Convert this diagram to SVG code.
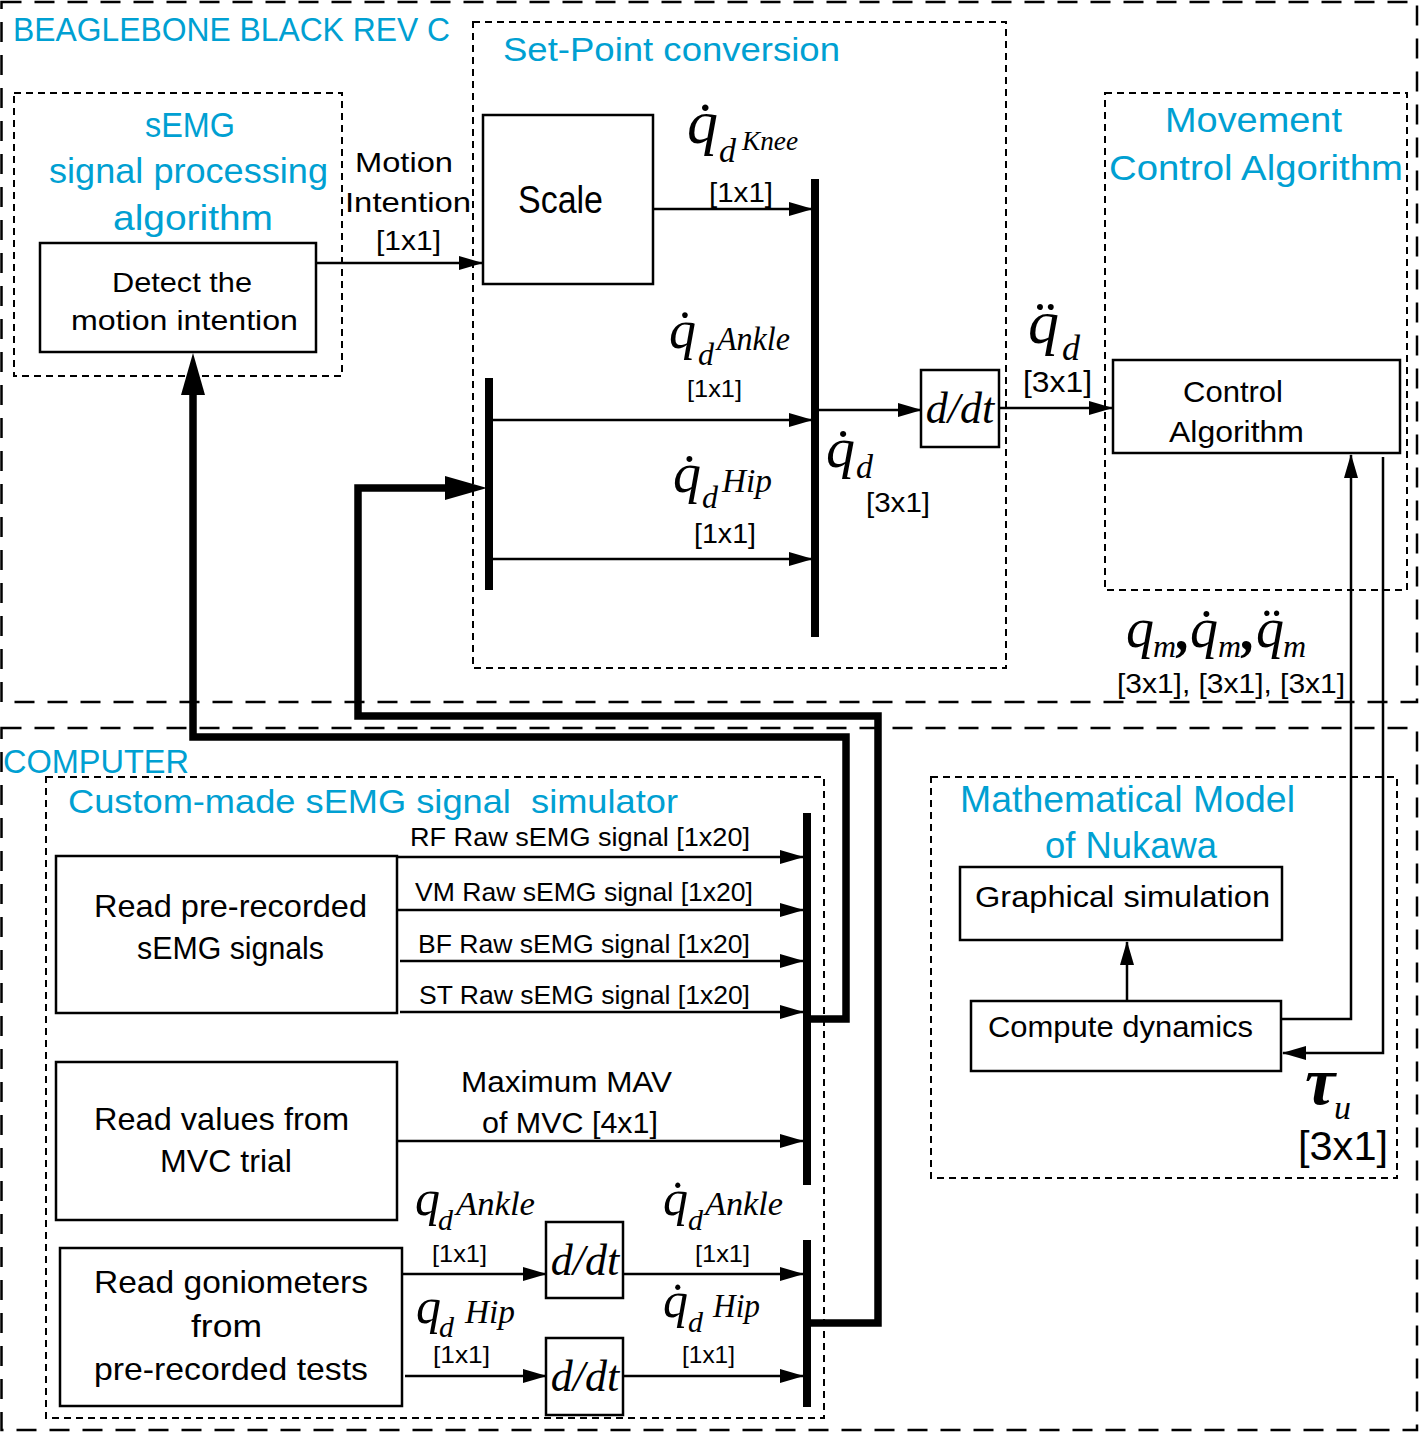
<svg xmlns="http://www.w3.org/2000/svg" width="1419" height="1432" viewBox="0 0 1419 1432">
<style>
.bg{fill:#fff}
.box{fill:#fff;stroke:#000;stroke-width:2.5}
.dashO{fill:none;stroke:#000;stroke-width:2.5;stroke-dasharray:20 13}
.dashI{fill:none;stroke:#000;stroke-width:2;stroke-dasharray:7 5}
.ln{fill:none;stroke:#000;stroke-width:2.5}
.thick{fill:none;stroke:#000;stroke-width:7.5;stroke-linejoin:miter}
.bar{fill:#000}
.t{font-family:"Liberation Sans",Arial,sans-serif;fill:#00A0D2}
.l{font-family:"Liberation Sans",Arial,sans-serif;fill:#000}
.m{font-family:"Liberation Serif","Times New Roman",serif;font-style:italic;fill:#000}
</style>
<defs>
<marker id="arr" markerUnits="userSpaceOnUse" markerWidth="24" markerHeight="14" refX="23" refY="7" orient="auto">
<path d="M0,0 L24,7 L0,14 Z" fill="#000"/>
</marker>
<marker id="arrBig" markerUnits="userSpaceOnUse" markerWidth="42" markerHeight="24" refX="1" refY="12" orient="auto">
<path d="M0,0 L42,12 L0,24 Z" fill="#000"/>
</marker>
</defs>
<rect class="bg" x="0" y="0" width="1419" height="1432"/>

<g id="beaglebone">
<rect class="dashO" x="1.5" y="2" width="1415.5" height="700"/>
<text class="t" x="13" y="41" font-size="33" textLength="437" lengthAdjust="spacingAndGlyphs">BEAGLEBONE BLACK REV C</text>
</g>
<g id="computer">
<rect class="dashO" x="1.5" y="728" width="1415.5" height="702"/>
<text class="t" x="3" y="773" font-size="33" textLength="186" lengthAdjust="spacingAndGlyphs">COMPUTER</text>
</g>

<g id="semg-processing">
<rect class="dashI" x="14" y="93" width="328" height="283"/>
<text class="t" x="145" y="137" font-size="35" textLength="90" lengthAdjust="spacingAndGlyphs">sEMG</text>
<text class="t" x="49" y="183" font-size="35" textLength="279" lengthAdjust="spacingAndGlyphs">signal processing</text>
<text class="t" x="113" y="230" font-size="35" textLength="160" lengthAdjust="spacingAndGlyphs">algorithm</text>
</g>
<g id="detect">
<rect class="box" x="40" y="243" width="276" height="109"/>
<text class="l" x="112" y="292" font-size="28" textLength="140" lengthAdjust="spacingAndGlyphs">Detect the</text>
<text class="l" x="71" y="330" font-size="28" textLength="227" lengthAdjust="spacingAndGlyphs">motion intention</text>
</g>

<g id="setpoint">
<rect class="dashI" x="473" y="22" width="533" height="646"/>
<text class="t" x="503" y="61" font-size="34" textLength="337" lengthAdjust="spacingAndGlyphs">Set-Point conversion</text>
</g>
<g id="scale">
<rect class="box" x="483" y="115" width="170" height="169"/>
<text class="l" x="518" y="213" font-size="38" textLength="85" lengthAdjust="spacingAndGlyphs">Scale</text>
</g>
<g id="mux-setpoint-in"><rect class="bar" x="485" y="378" width="8" height="212"/></g>
<g id="mux-setpoint-out"><rect class="bar" x="811" y="179" width="8" height="458"/></g>
<g id="ddt-setpoint">
<rect class="box" x="921" y="370" width="78" height="77"/>
<text class="m" x="960" y="423" font-size="44" text-anchor="middle">d/dt</text>
</g>

<g id="movement-control">
<rect class="dashI" x="1105" y="93" width="302" height="497"/>
<text class="t" x="1165" y="132" font-size="35" textLength="177" lengthAdjust="spacingAndGlyphs">Movement</text>
<text class="t" x="1109" y="180" font-size="35" textLength="294" lengthAdjust="spacingAndGlyphs">Control Algorithm</text>
</g>
<g id="control-algorithm">
<rect class="box" x="1113" y="360" width="287" height="93"/>
<text class="l" x="1183" y="402" font-size="29" textLength="100" lengthAdjust="spacingAndGlyphs">Control</text>
<text class="l" x="1169" y="442" font-size="29" textLength="135" lengthAdjust="spacingAndGlyphs">Algorithm</text>
</g>

<g id="custom-simulator">
<rect class="dashI" x="46" y="777" width="778" height="641"/>
<text class="t" x="68" y="813" font-size="34" textLength="610" lengthAdjust="spacingAndGlyphs" xml:space="preserve">Custom-made sEMG signal  simulator</text>
</g>
<g id="read-semg">
<rect class="box" x="56" y="856" width="341" height="157"/>
<text class="l" x="94" y="917" font-size="32" textLength="273" lengthAdjust="spacingAndGlyphs">Read pre-recorded</text>
<text class="l" x="137" y="959" font-size="32" textLength="187" lengthAdjust="spacingAndGlyphs">sEMG signals</text>
</g>
<g id="read-mvc">
<rect class="box" x="56" y="1062" width="341" height="158"/>
<text class="l" x="94" y="1130" font-size="32" textLength="255" lengthAdjust="spacingAndGlyphs">Read values from</text>
<text class="l" x="160" y="1172" font-size="32" textLength="132" lengthAdjust="spacingAndGlyphs">MVC trial</text>
</g>
<g id="read-goniometers">
<rect class="box" x="60" y="1248" width="342" height="158"/>
<text class="l" x="94" y="1293" font-size="32" textLength="274" lengthAdjust="spacingAndGlyphs">Read goniometers</text>
<text class="l" x="191" y="1337" font-size="32" textLength="71" lengthAdjust="spacingAndGlyphs">from</text>
<text class="l" x="94" y="1380" font-size="32" textLength="274" lengthAdjust="spacingAndGlyphs">pre-recorded tests</text>
</g>
<g id="ddt-ankle">
<rect class="box" x="546" y="1222" width="77" height="76"/>
<text class="m" x="585" y="1275" font-size="44" text-anchor="middle">d/dt</text>
</g>
<g id="ddt-hip">
<rect class="box" x="546" y="1338" width="77" height="77"/>
<text class="m" x="585" y="1391" font-size="44" text-anchor="middle">d/dt</text>
</g>
<g id="mux-semg"><rect class="bar" x="803" y="813" width="8" height="372"/></g>
<g id="mux-gonio"><rect class="bar" x="803" y="1240" width="8" height="167"/></g>

<g id="math-model">
<rect class="dashI" x="931" y="777" width="466" height="401"/>
<text class="t" x="960" y="812" font-size="36" textLength="335" lengthAdjust="spacingAndGlyphs">Mathematical Model</text>
<text class="t" x="1045" y="858" font-size="36" textLength="172" lengthAdjust="spacingAndGlyphs">of Nukawa</text>
</g>
<g id="graphical-simulation">
<rect class="box" x="960" y="867" width="322" height="73"/>
<text class="l" x="975" y="907" font-size="30" textLength="295" lengthAdjust="spacingAndGlyphs">Graphical simulation</text>
</g>
<g id="compute-dynamics">
<rect class="box" x="971" y="1001" width="310" height="70"/>
<text class="l" x="988" y="1037" font-size="30" textLength="265" lengthAdjust="spacingAndGlyphs">Compute dynamics</text>
</g>

<g id="connectors">
<path class="ln" d="M316,263 H482" marker-end="url(#arr)"/>
<path class="ln" d="M653,209 H812" marker-end="url(#arr)"/>
<path class="ln" d="M493,420 H812" marker-end="url(#arr)"/>
<path class="ln" d="M493,559 H812" marker-end="url(#arr)"/>
<path class="ln" d="M819,410 H921" marker-end="url(#arr)"/>
<path class="ln" d="M999,408 H1112" marker-end="url(#arr)"/>
<path class="ln" d="M1383,457 V1053 H1283" marker-end="url(#arr)"/>
<path class="ln" d="M1281,1019 H1351 V455" marker-end="url(#arr)"/>
<path class="ln" d="M1127,1001 V942" marker-end="url(#arr)"/>
<path class="ln" d="M397,857 H803" marker-end="url(#arr)"/>
<path class="ln" d="M398,910 H803" marker-end="url(#arr)"/>
<path class="ln" d="M400,961 H803" marker-end="url(#arr)"/>
<path class="ln" d="M400,1012 H803" marker-end="url(#arr)"/>
<path class="ln" d="M397,1141 H803" marker-end="url(#arr)"/>
<path class="ln" d="M402,1274 H546" marker-end="url(#arr)"/>
<path class="ln" d="M623,1274 H803" marker-end="url(#arr)"/>
<path class="ln" d="M405,1376 H546" marker-end="url(#arr)"/>
<path class="ln" d="M623,1376 H803" marker-end="url(#arr)"/>
<path class="thick" d="M811,1019 H846 V737 H193 V394" marker-end="url(#arrBig)"/>
<path class="thick" d="M811,1323 H878 V716 H358 V488 H446" marker-end="url(#arrBig)"/>
</g>

<g id="labels">
<text class="l" x="355" y="172" font-size="28" textLength="98" lengthAdjust="spacingAndGlyphs">Motion</text>
<text class="l" x="345" y="212" font-size="28" textLength="126" lengthAdjust="spacingAndGlyphs">Intention</text>
<text class="l" x="376" y="250" font-size="28" textLength="65" lengthAdjust="spacingAndGlyphs">[1x1]</text>

<text class="m"><tspan x="687" y="143" font-size="62">q̇</tspan><tspan x="719" y="162" font-size="34">d</tspan><tspan x="742" y="150" font-size="28" textLength="56" lengthAdjust="spacingAndGlyphs">Knee</tspan></text>
<text class="l" x="709" y="202" font-size="28" textLength="64" lengthAdjust="spacingAndGlyphs">[1x1]</text>

<text class="m"><tspan x="669" y="348" font-size="54">q̇</tspan><tspan x="698" y="365" font-size="32">d</tspan><tspan x="717" y="350" font-size="34" textLength="73" lengthAdjust="spacingAndGlyphs">Ankle</tspan></text>
<text class="l" x="687" y="397" font-size="24" textLength="55" lengthAdjust="spacingAndGlyphs">[1x1]</text>

<text class="m"><tspan x="673" y="492" font-size="56">q̇</tspan><tspan x="702" y="508" font-size="32">d</tspan><tspan x="722" y="492" font-size="34" textLength="50" lengthAdjust="spacingAndGlyphs">Hip</tspan></text>
<text class="l" x="694" y="543" font-size="28" textLength="62" lengthAdjust="spacingAndGlyphs">[1x1]</text>

<text class="m"><tspan x="826" y="467" font-size="58">q̇</tspan><tspan x="856" y="478" font-size="34">d</tspan></text>
<text class="l" x="866" y="512" font-size="28" textLength="64" lengthAdjust="spacingAndGlyphs">[3x1]</text>

<text class="m"><tspan x="1028" y="343" font-size="62">q̈</tspan><tspan x="1062" y="360" font-size="36">d</tspan></text>
<text class="l" x="1023" y="392" font-size="30" textLength="69" lengthAdjust="spacingAndGlyphs">[3x1]</text>

<text class="m"><tspan x="1126" y="647" font-size="56">q</tspan><tspan x="1153" y="657" font-size="32">m</tspan><tspan x="1177" y="649" font-size="56" font-weight="bold">,</tspan><tspan x="1190" y="647" font-size="56">q̇</tspan><tspan x="1218" y="657" font-size="32">m</tspan><tspan x="1242" y="649" font-size="56" font-weight="bold">,</tspan><tspan x="1256" y="647" font-size="56">q̈</tspan><tspan x="1283" y="657" font-size="32">m</tspan></text>
<text class="l" x="1117" y="693" font-size="28" textLength="228" lengthAdjust="spacingAndGlyphs">[3x1], [3x1], [3x1]</text>

<text class="m"><tspan x="1305" y="1104" font-size="68" font-weight="bold">τ</tspan><tspan x="1334" y="1119" font-size="34">u</tspan></text>
<text class="l" x="1298" y="1160" font-size="40" textLength="90" lengthAdjust="spacingAndGlyphs">[3x1]</text>

<text class="l" x="410" y="846" font-size="26" textLength="340" lengthAdjust="spacingAndGlyphs">RF Raw sEMG signal [1x20]</text>
<text class="l" x="415" y="901" font-size="26" textLength="338" lengthAdjust="spacingAndGlyphs">VM Raw sEMG signal [1x20]</text>
<text class="l" x="418" y="953" font-size="26" textLength="332" lengthAdjust="spacingAndGlyphs">BF Raw sEMG signal [1x20]</text>
<text class="l" x="419" y="1004" font-size="26" textLength="331" lengthAdjust="spacingAndGlyphs">ST Raw sEMG signal [1x20]</text>
<text class="l" x="461" y="1092" font-size="30" textLength="211" lengthAdjust="spacingAndGlyphs">Maximum MAV</text>
<text class="l" x="482" y="1133" font-size="30" textLength="176" lengthAdjust="spacingAndGlyphs">of MVC [4x1]</text>

<text class="m"><tspan x="415" y="1215" font-size="50">q</tspan><tspan x="438" y="1230" font-size="30">d</tspan><tspan x="456" y="1215" font-size="34" textLength="79" lengthAdjust="spacingAndGlyphs">Ankle</tspan></text>
<text class="l" x="432" y="1262" font-size="24" textLength="55" lengthAdjust="spacingAndGlyphs">[1x1]</text>
<text class="m"><tspan x="416" y="1323" font-size="50">q</tspan><tspan x="439" y="1337" font-size="30">d</tspan><tspan x="465" y="1323" font-size="34" textLength="50" lengthAdjust="spacingAndGlyphs">Hip</tspan></text>
<text class="l" x="433" y="1363" font-size="24" textLength="57" lengthAdjust="spacingAndGlyphs">[1x1]</text>
<text class="m"><tspan x="663" y="1215" font-size="50">q̇</tspan><tspan x="688" y="1230" font-size="30">d</tspan><tspan x="705" y="1215" font-size="34" textLength="78" lengthAdjust="spacingAndGlyphs">Ankle</tspan></text>
<text class="l" x="695" y="1262" font-size="24" textLength="55" lengthAdjust="spacingAndGlyphs">[1x1]</text>
<text class="m"><tspan x="663" y="1317" font-size="50">q̇</tspan><tspan x="688" y="1332" font-size="30">d</tspan><tspan x="713" y="1317" font-size="34" textLength="47" lengthAdjust="spacingAndGlyphs">Hip</tspan></text>
<text class="l" x="682" y="1363" font-size="24" textLength="53" lengthAdjust="spacingAndGlyphs">[1x1]</text>
</g>
</svg>
